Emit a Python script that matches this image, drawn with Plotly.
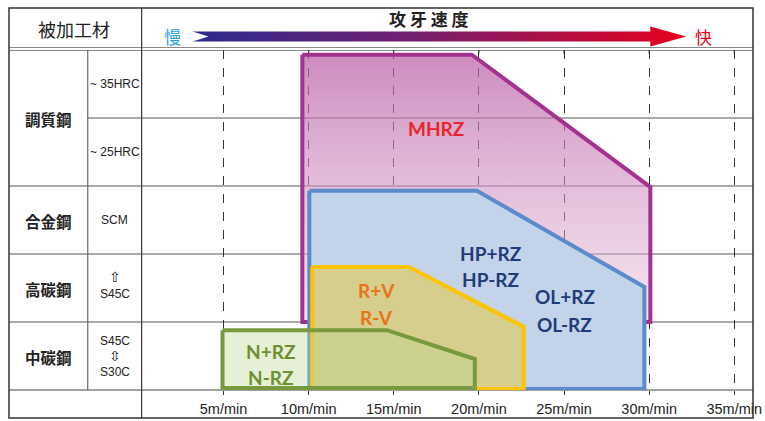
import plotly.graph_objects as go

# ---------------- data ----------------
speed_ticks = [5, 10, 15, 20, 25, 30, 35]
speed_tick_labels = ["5m/min", "10m/min", "15m/min", "20m/min", "25m/min", "30m/min", "35m/min"]

materials = ["調質鋼", "合金鋼", "高碳鋼", "中碳鋼"]
material_rows = [4.0, 2.5, 1.5, 0.5]
grades = ["~ 35HRC", "~ 25HRC", "SCM",
          "<span style='font-size:14px'>⇧</span><br>S45C",
          "S45C<br><span style='font-size:14px'>⇳</span><br>S30C"]
grade_rows = [4.5, 3.5, 2.5, 1.55, 0.5]

# speed ranges (m/min) vs. material row level
mhrz_speed = [9.63, 19.58, 30.07, 30.07, 9.63]
mhrz_row = [4.93, 4.93, 2.985, 1.0, 1.0]
hp_speed = [10.04, 19.88, 29.72, 29.72, 10.04]
hp_row = [2.93, 2.93, 1.515, 0.015, 0.015]
rv_speed = [10.21, 15.89, 22.63, 22.63, 10.21]
rv_row = [1.81, 1.81, 0.93, 0.015, 0.015]
n_speed = [4.94, 14.6, 19.76, 19.76, 4.94]
n_row = [0.88, 0.88, 0.455, 0.03, 0.03]

series_labels = [
    ("MHRZ", 17.47, 3.84, "#E8262A"),
    ("HP+RZ", 20.7, 2.01, "#1F3C78"),
    ("HP-RZ", 20.7, 1.62, "#1F3C78"),
    ("OL+RZ", 25.03, 1.37, "#1F3C78"),
    ("OL-RZ", 25.03, 0.97, "#1F3C78"),
    ("R+V", 13.96, 1.46, "#E8731A"),
    ("R-V", 13.96, 1.07, "#E8731A"),
    ("N+RZ", 7.75, 0.57, "#6E8F2E"),
    ("N-RZ", 7.75, 0.19, "#6E8F2E"),
]

# ---------------- layout geometry (pixels) ----------------
W, H = 765, 421
L, R, T, B = 9, 755, 8, 418          # outer frame
COL1, COL2 = 88, 142                  # table column lines
TOP, BOT = 50, 390                    # chart area
XR = [0.19, 36.1]
YR = [0, 5]

def px(x):
    return (x - L) / (R - L)

def py(y):
    return (B - y) / (B - T)

xdom = [px(COL2), 1.0]
ydom = [py(BOT), py(TOP)]

def xd(v):
    return xdom[0] + (v - XR[0]) / (XR[1] - XR[0]) * (xdom[1] - xdom[0])

def yd(r):
    return ydom[0] + (r - YR[0]) / (YR[1] - YR[0]) * (ydom[1] - ydom[0])

fig = go.Figure()

def closed(a):
    return list(a) + [a[0]]

# MHRZ (gradient)
fig.add_trace(go.Scatter(
    x=closed(mhrz_speed), y=closed(mhrz_row), mode="lines", fill="toself",
    line=dict(color="#A3318F", width=4),
    fillgradient=dict(type="vertical",
                      colorscale=[[0, "rgba(232,195,222,0.45)"], [1, "rgba(185,95,165,0.72)"]]),
    hoverinfo="skip"))
# HP / OL
fig.add_trace(go.Scatter(
    x=closed(hp_speed), y=closed(hp_row), mode="lines", fill="toself",
    fillcolor="#C3D4EA", line=dict(color="#5B8BCB", width=4), hoverinfo="skip"))
# R+V
fig.add_trace(go.Scatter(
    x=closed(rv_speed), y=closed(rv_row), mode="lines", fill="toself",
    fillcolor="#D6CE8C", line=dict(color="#FFC400", width=4), hoverinfo="skip"))
# N
fig.add_trace(go.Scatter(
    x=closed(n_speed), y=closed(n_row), mode="lines", fill="toself",
    fillcolor="rgba(190,215,150,0.38)", line=dict(color="#789A3C", width=4), hoverinfo="skip"))

# gradient arrow in header (pixel axes)
arrow_x = [193, 209, 193, 652, 652, 688, 652, 652, 193]
arrow_y = [31.5, 36.5, 41.5, 41.5, 46.5, 36.5, 26.5, 31.5, 31.5]
fig.add_trace(go.Scatter(
    x=arrow_x, y=arrow_y, xaxis="x2", yaxis="y2", mode="lines", fill="toself",
    line=dict(width=0, color="rgba(0,0,0,0)"),
    fillgradient=dict(type="horizontal",
                      colorscale=[[0, "#2B2A8E"], [0.45, "#74206F"], [1, "#E8001C"]]),
    hoverinfo="skip"))

# ---------------- table lines ----------------
lc = "#4a4a4a"
shapes = []
def line(x0, y0, x1, y1, color=lc, width=1):
    shapes.append(dict(type="line", xref="paper", yref="paper", x0=px(x0), y0=py(y0),
                       x1=px(x1), y1=py(y1), line=dict(color=color, width=width), layer="below"))

shapes.append(dict(type="rect", xref="paper", yref="paper", x0=0, y0=0, x1=1, y1=1,
                   line=dict(color="#333", width=1.5), layer="above"))
line(L, 47.5, R, 47.5, "#8a8a8a", 1)
line(L, 50.5, R, 50.5, "#8a8a8a", 1)
line(COL2, T, COL2, B, "#333", 1.2)
line(COL1, TOP, COL1, BOT, lc, 1)
for r in [4, 3, 2, 1, 0]:
    x0 = COL1 if r == 4 else L
    shapes.append(dict(type="line", xref="paper", yref="paper", x0=px(x0), x1=1,
                       y0=yd(r), y1=yd(r), line=dict(color="#555" if r else "#444", width=1.2),
                       layer="below"))
# small ticks below the header line
for v in speed_ticks:
    shapes.append(dict(type="line", xref="paper", yref="paper", x0=xd(v), x1=xd(v),
                       y0=py(TOP), y1=py(TOP + 4), line=dict(color="#333", width=1), layer="below"))

# ---------------- annotations ----------------
ann = []
cjk = "Noto Sans CJK JP"
ann.append(dict(x=74, y=29, xref="x2", yref="y2", text="被加工材", showarrow=False,
                font=dict(family=cjk, size=18, color="#222")))
ann.append(dict(x=430, y=18, xref="x2", yref="y2", text="<b>攻 牙 速 度</b>", showarrow=False,
                font=dict(family=cjk, size=17, color="#222")))
ann.append(dict(x=173, y=36, xref="x2", yref="y2", text="慢", showarrow=False,
                font=dict(family=cjk, size=17, color="#1EA0E6")))
ann.append(dict(x=705, y=36, xref="x2", yref="y2", text="快", showarrow=False,
                font=dict(family=cjk, size=17, color="#E60012")))
for name, r in zip(materials, material_rows):
    ann.append(dict(x=49, y=r, xref="x2", yref="y", text="<b>" + name + "</b>", showarrow=False,
                    yshift=-1, font=dict(family=cjk, size=15.5, color="#222")))
for g, r in zip(grades, grade_rows):
    ann.append(dict(x=115, y=r, xref="x2", yref="y", text=g, showarrow=False,
                    font=dict(family="Liberation Sans Narrow, Liberation Sans, sans-serif",
                              size=12, color="#222")))
for t, sx, sy, c in series_labels:
    ann.append(dict(x=sx, y=sy, xref="x", yref="y", text="<b>" + t + "</b>", showarrow=False,
                    font=dict(family="Lato, Open Sans, sans-serif", size=19, color=c)))

fig.update_layout(
    width=W, height=H,
    margin=dict(l=L, r=W - R, t=T, b=H - B),
    paper_bgcolor="white", plot_bgcolor="rgba(0,0,0,0)",
    showlegend=False, hovermode=False,
    shapes=shapes, annotations=ann,
    xaxis=dict(domain=xdom, range=XR, tickvals=speed_ticks, ticktext=speed_tick_labels,
               showgrid=True, gridcolor="#333", griddash="dash", gridwidth=1,
               zeroline=False, showline=False, ticks="outside", ticklen=4, tickcolor="#333",
               ticklabelstandoff=2, fixedrange=True,
               tickfont=dict(family="Liberation Sans, sans-serif", size=14.5, color="#222")),
    yaxis=dict(domain=ydom, range=YR, showgrid=False, zeroline=False, showticklabels=False,
               showline=False, fixedrange=True),
    xaxis2=dict(domain=[0, 1], range=[L, R], visible=False, anchor="y2", fixedrange=True),
    yaxis2=dict(domain=[0, 1], range=[B, T], visible=False, anchor="x2", fixedrange=True),
)

fig.write_html("out.html", config={"displayModeBar": False, "staticPlot": True},
               post_script="document.body.style.margin='0';")
